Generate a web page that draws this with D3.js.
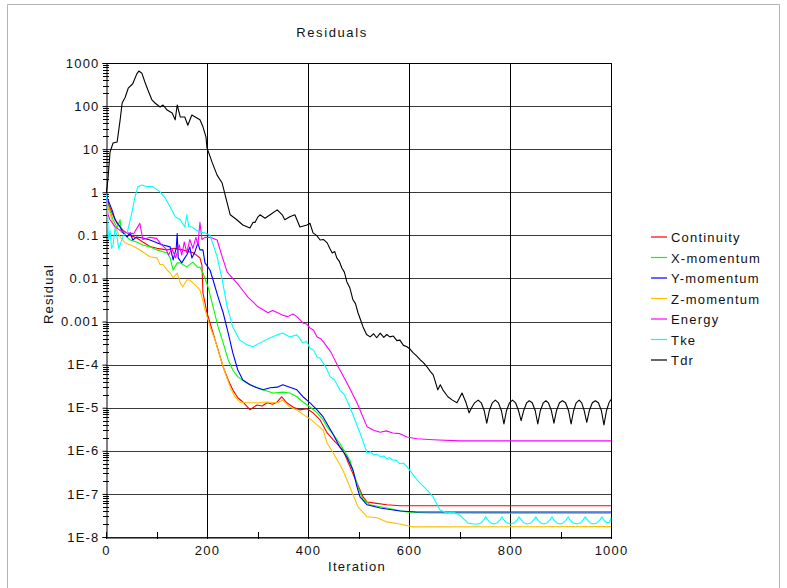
<!DOCTYPE html>
<html>
<head>
<meta charset="utf-8">
<script src="https://cdn.jsdelivr.net/npm/d3@7"></script>
<style>
  body { margin: 0; background: #fff; }
  text { font-family: "Liberation Sans", Arial, sans-serif; fill: #111; }
</style>
</head>
<body>
<div id="chart"></div>
<script>
var svgWidth = 787;
var svgHeight = 588;

var margin = { top: 63, bottom: 51, left: 106, right: 176 };
var width = svgWidth - margin.left - margin.right;
var height = svgHeight - margin.top - margin.bottom;

// series: [iteration, residual]
var continuity = [[0,0.8],[4,0.565],[12,0.33],[22,0.19],[34,0.13],[48,0.1],[61,0.087],[73,0.07],[87,0.055],[101,0.05],[121,0.046],[135,0.05],[152,0.046],[162,0.042],[172,0.04],[186,0.03],[190,0.02],[192,0.0046],[200,0.0016],[212,5.4e-4],[222,2.2e-4],[232,8.8e-5],[242,4.4e-5],[251,2.6e-5],[261,1.7e-5],[271,1.36e-5],[285,9.0e-6],[299,1.16e-5],[309,1.1e-5],[319,1.3e-5],[330,1.2e-5],[339,1.36e-5],[348,1.8e-5],[358,1.3e-5],[370,1.04e-5],[384,8.9e-6],[398,9.5e-6],[410,7.6e-6],[424,5.2e-6],[438,2.6e-6],[450,1.8e-6],[469,1.05e-6],[483,4.3e-7],[497,1.8e-7],[509,8.5e-8],[517,6.5e-8],[529,6.2e-8],[556,5.6e-8],[582,5.3e-8],[700,5.3e-8],[1000,5.3e-8]];

var xMomentum = [[0,0.7],[4,0.51],[14,0.23],[22,0.15],[28,0.23],[30,0.12],[34,0.114],[42,0.09],[48,0.078],[61,0.07],[73,0.06],[87,0.054],[101,0.046],[121,0.039],[127,0.03],[133,0.0157],[141,0.023],[147,0.023],[160,0.0185],[172,0.024],[182,0.018],[186,0.0185],[192,0.0134],[202,0.0064],[212,0.0022],[222,7.5e-4],[232,3.2e-4],[242,1.3e-4],[251,7.5e-5],[261,5.2e-5],[275,4.0e-5],[291,3.2e-5],[311,2.6e-5],[331,2.2e-5],[350,2.3e-5],[364,2.2e-5],[378,1.8e-5],[390,1.36e-5],[404,1.04e-5],[418,7.6e-6],[430,5.2e-6],[438,3.6e-6],[463,1.5e-6],[483,6.0e-7],[499,1.45e-7],[509,7.3e-8],[523,5.6e-8],[556,4.7e-8],[596,3.8e-8],[636,3.6e-8],[1000,3.55e-8]];

var yMomentum = [[0,0.9],[4,0.66],[12,0.39],[18,0.23],[28,0.157],[34,0.114],[42,0.092],[48,0.114],[53,0.078],[61,0.092],[73,0.087],[87,0.078],[101,0.067],[113,0.06],[127,0.054],[133,0.027],[139,0.05],[141,0.11],[143,0.03],[150,0.023],[156,0.03],[160,0.035],[166,0.054],[170,0.03],[176,0.041],[182,0.067],[186,0.046],[192,0.046],[196,0.023],[206,0.0157],[212,0.0092],[222,0.0037],[232,0.0016],[242,5.4e-4],[251,1.9e-4],[261,7.5e-5],[271,4.4e-5],[285,3.4e-5],[299,2.9e-5],[311,2.6e-5],[325,2.9e-5],[339,3.0e-5],[350,3.4e-5],[364,3.0e-5],[378,2.6e-5],[390,1.8e-5],[404,1.3e-5],[418,8.9e-6],[430,6.1e-6],[440,3.8e-6],[450,2.4e-6],[463,1.23e-6],[477,7.2e-7],[489,3.6e-7],[497,1.45e-7],[503,8.5e-8],[517,5.6e-8],[543,4.7e-8],[582,4.0e-8],[616,3.8e-8],[1000,3.8e-8]];

var zMomentum = [[0,0.6],[4,0.46],[14,0.19],[28,0.092],[38,0.067],[48,0.06],[61,0.051],[73,0.041],[87,0.032],[101,0.03],[107,0.021],[113,0.021],[121,0.0157],[127,0.0134],[133,0.0103],[141,0.0134],[147,0.0079],[152,0.0064],[160,0.0092],[166,0.0092],[172,0.0079],[180,0.0064],[186,0.0054],[190,0.0037],[196,0.0019],[206,7.5e-4],[216,3.7e-4],[226,1.5e-4],[236,6.4e-5],[246,3.0e-5],[255,1.8e-5],[265,1.36e-5],[279,1.3e-5],[299,1.3e-5],[319,1.36e-5],[339,1.3e-5],[350,1.5e-5],[364,1.04e-5],[378,8.9e-6],[390,7.0e-6],[404,5.5e-6],[418,4.0e-6],[430,3.0e-6],[438,1.5e-6],[450,8.9e-7],[469,3.6e-7],[483,1.45e-7],[499,5.0e-8],[517,2.95e-8],[537,2.8e-8],[556,2.24e-8],[582,2.0e-8],[608,1.72e-8],[1000,1.74e-8]];

var energy = [[0,0.9],[4,0.3],[8,0.23],[18,0.157],[28,0.13],[42,0.114],[55,0.11],[67,0.19],[73,0.08],[87,0.09],[100,0.085],[110,0.06],[118,0.05],[124,0.035],[130,0.05],[138,0.03],[145,0.06],[150,0.035],[155,0.07],[160,0.04],[166,0.08],[172,0.05],[178,0.09],[182,0.06],[186,0.2],[190,0.08],[196,0.09],[204,0.09],[210,0.087],[220,0.078],[230,0.032],[240,0.014],[259,0.0079],[275,0.0046],[281,0.0037],[301,0.0022],[321,0.0016],[330,0.0018],[340,0.0016],[350,0.0014],[360,0.0013],[370,0.0015],[378,0.0013],[390,9.3e-4],[397,8.8e-4],[404,7.1e-4],[411,6.3e-4],[418,4.4e-4],[425,4.0e-4],[432,3.2e-4],[446,1.9e-4],[460,8.8e-5],[477,3.8e-5],[497,1.3e-5],[517,3.6e-6],[530,3.0e-6],[543,2.7e-6],[555,2.9e-6],[568,2.6e-6],[582,2.5e-6],[596,2.1e-6],[616,1.9e-6],[648,1.8e-6],[700,1.7e-6],[1000,1.7e-6]];

var tke = [[0,0.9],[2,0.7],[5,0.08],[8,0.13],[11,0.05],[14,0.06],[18,0.15],[22,0.09],[25,0.05],[28,0.06],[34,0.1],[42,0.114],[51,0.33],[57,0.74],[63,1.35],[71,1.48],[81,1.35],[93,1.35],[107,1.02],[117,0.74],[127,0.46],[137,0.27],[147,0.23],[156,0.157],[160,0.3],[164,0.16],[170,0.157],[180,0.13],[186,0.12],[196,0.114],[206,0.1],[220,0.032],[230,0.0094],[240,0.0022],[251,7.5e-4],[265,3.7e-4],[279,2.9e-4],[291,2.6e-4],[305,3.2e-4],[325,4.2e-4],[339,4.9e-4],[350,5.4e-4],[364,4.4e-4],[378,4.9e-4],[390,3.2e-4],[397,3.5e-4],[404,2.4e-4],[411,2.2e-4],[418,1.5e-4],[424,1.4e-4],[430,1.1e-4],[437,8.0e-5],[444,5.2e-5],[452,4.5e-5],[463,2.6e-5],[472,2.0e-5],[483,1.04e-5],[503,2.6e-6],[517,8.9e-7],[524,9.5e-7],[530,8.0e-7],[537,8.4e-7],[543,7.2e-7],[550,7.6e-7],[556,6.6e-7],[562,6.9e-7],[568,6.1e-7],[575,6.0e-7],[582,5.0e-7],[589,5.2e-7],[596,4.3e-7],[616,2.1e-7],[636,1.23e-7],[648,8.5e-8],[661,4.3e-8],[675,3.6e-8],[687,3.8e-8],[701,3.2e-8],[717,2.1e-8],[728,2.0e-8],[738,2.0e-8],[743,2.15e-8],[748,2.5e-8],[752,2.95e-8],[756,2.5e-8],[761,2.15e-8],[768,2.0e-8],[775,2.15e-8],[780,2.5e-8],[784,2.95e-8],[788,2.5e-8],[793,2.15e-8],[801,2.0e-8],[809,2.15e-8],[814,2.5e-8],[818,2.95e-8],[822,2.5e-8],[827,2.15e-8],[834,2.0e-8],[842,2.15e-8],[847,2.5e-8],[851,2.95e-8],[855,2.5e-8],[860,2.15e-8],[867,2.0e-8],[874,2.15e-8],[879,2.5e-8],[883,2.95e-8],[887,2.5e-8],[892,2.15e-8],[899,2.0e-8],[906,2.15e-8],[911,2.5e-8],[915,2.95e-8],[919,2.5e-8],[924,2.15e-8],[932,2.0e-8],[940,2.15e-8],[945,2.5e-8],[949,2.95e-8],[953,2.5e-8],[958,2.15e-8],[965,2.0e-8],[973,2.15e-8],[978,2.5e-8],[982,2.95e-8],[986,2.5e-8],[991,2.15e-8],[997,2.2e-8],[1000,2.8e-8]];

var tdr = [[0,1.0],[2,1.26],[4,2.1],[8,8.6],[14,13.9],[22,14.7],[28,48],[32,118],[38,160],[44,260],[53,330],[61,560],[65,650],[71,580],[77,362],[83,236],[91,139],[97,118],[107,95],[113,106],[121,81],[131,69],[137,48],[141,106],[147,56],[156,56],[162,36],[170,62],[180,53],[186,48],[192,33],[198,19],[200,10.7],[210,5.0],[220,2.5],[230,1.64],[236,0.86],[246,0.3],[259,0.23],[271,0.174],[285,0.149],[291,0.2],[295,0.2],[301,0.27],[305,0.3],[315,0.25],[325,0.3],[339,0.39],[349,0.3],[354,0.23],[364,0.27],[374,0.3],[384,0.157],[398,0.174],[404,0.19],[410,0.114],[417,0.1],[424,0.078],[431,0.08],[438,0.067],[443,0.05],[448,0.039],[453,0.042],[457,0.03],[462,0.025],[467,0.0175],[472,0.014],[477,0.0083],[483,0.006],[489,0.0032],[494,0.0026],[499,0.0016],[504,0.0011],[509,7.5e-4],[516,5.0e-4],[523,4.4e-4],[530,5.2e-4],[536,4.2e-4],[543,5.4e-4],[550,4.3e-4],[556,5.0e-4],[562,4.4e-4],[569,4.6e-4],[576,3.6e-4],[582,3.7e-4],[589,2.8e-4],[596,2.6e-4],[602,2.3e-4],[608,1.9e-4],[615,1.6e-4],[622,1.3e-4],[629,1.1e-4],[636,8.8e-5],[642,7.0e-5],[648,5.8e-5],[657,2.6e-5],[662,3.4e-5],[667,2.6e-5],[677,1.8e-5],[686,1.5e-5],[695,1.3e-5],[705,2.2e-5],[713,1.3e-5],[719,7.6e-6],[724,1.0e-5],[730,1.3e-5],[737,1.5e-5],[743,1.3e-5],[749,8.5e-6],[754,4.4e-6],[759,8.5e-6],[765,1.3e-5],[771,1.5e-5],[777,1.3e-5],[783,8.5e-6],[788,4.2e-6],[793,8.5e-6],[799,1.3e-5],[805,1.5e-5],[811,1.3e-5],[817,8.5e-6],[822,5.0e-6],[827,8.5e-6],[833,1.3e-5],[838,1.45e-5],[844,1.3e-5],[850,8.5e-6],[855,4.2e-6],[860,8.5e-6],[866,1.3e-5],[871,1.45e-5],[876,1.3e-5],[882,8.5e-6],[887,4.4e-6],[892,8.5e-6],[898,1.3e-5],[904,1.45e-5],[910,1.3e-5],[916,8.5e-6],[921,4.2e-6],[926,8.5e-6],[931,1.3e-5],[937,1.5e-5],[942,1.3e-5],[947,8.5e-6],[952,4.6e-6],[957,8.5e-6],[963,1.3e-5],[969,1.45e-5],[975,1.3e-5],[981,8.5e-6],[986,4.0e-6],[991,8.5e-6],[996,1.3e-5],[1000,1.55e-5]];

var seriesNames = ["Continuity", "X-momentum", "Y-momentum", "Z-momentum", "Energy", "Tke", "Tdr"];
var seriesColors = ["#ff0000", "#00ff00", "#0000ff", "#ffbf00", "#ff00ff", "#00ffff", "#000000"];
var seriesData = [continuity, xMomentum, yMomentum, zMomentum, energy, tke, tdr];

var yTickValues = [1000, 100, 10, 1, 0.1, 0.01, 0.001, 1e-4, 1e-5, 1e-6, 1e-7, 1e-8];
var yTickLabels = ["1000", "100", "10", "1", "0.1", "0.01", "0.001", "1E-4", "1E-5", "1E-6", "1E-7", "1E-8"];
var xTickValues = [0, 200, 400, 600, 800, 1000];
var xTickLabels = ["0", "200", "400", "600", "800", "1000"];

var svg = d3.select("#chart")
  .append("svg")
  .attr("width", svgWidth)
  .attr("height", svgHeight);

svg.append("rect").attr("width", svgWidth).attr("height", svgHeight).attr("fill", "#fff");

// outer frame (open at the bottom)
svg.append("path")
  .attr("d", "M7.5,588 V4.5 H779.5 V588")
  .attr("fill", "none")
  .attr("stroke", "#b4b4b4");

var chartGroup = svg.append("g")
  .attr("transform", `translate(${margin.left}, ${margin.top})`);

var xScale = d3.scaleLinear().domain([0, 1000]).range([0, width]);
var yScale = d3.scaleLog().domain([1e-8, 1000]).range([height, 0]);

// grid
chartGroup.selectAll(".hgrid")
  .data(yTickValues)
  .enter()
  .append("line")
  .attr("x1", 0)
  .attr("x2", width)
  .attr("y1", d => Math.round(yScale(d)) + 0.5)
  .attr("y2", d => Math.round(yScale(d)) + 0.5)
  .attr("stroke", "#3a3a3a");

chartGroup.selectAll(".vgrid")
  .data(xTickValues.slice(1))
  .enter()
  .append("line")
  .attr("x1", d => Math.round(xScale(d)) + 0.5)
  .attr("x2", d => Math.round(xScale(d)) + 0.5)
  .attr("y1", 0)
  .attr("y2", height)
  .attr("stroke", "#000");

// minor log ticks crossing the y axis
var minorTicks = [];
yTickValues.slice(1).forEach(function(d) {
  for (var m = 2; m < 10; m++) minorTicks.push(d * m);
});
chartGroup.selectAll(".minor")
  .data(minorTicks)
  .enter()
  .append("line")
  .attr("x1", -3)
  .attr("x2", 3)
  .attr("y1", d => Math.round(yScale(d)) + 0.5)
  .attr("y2", d => Math.round(yScale(d)) + 0.5)
  .attr("stroke", "#000");

// x ticks every 100
chartGroup.selectAll(".xminor")
  .data(d3.range(0, 1001, 100))
  .enter()
  .append("line")
  .attr("x1", d => Math.round(xScale(d)) + 0.5)
  .attr("x2", d => Math.round(xScale(d)) + 0.5)
  .attr("y1", height - 5)
  .attr("y2", height + 2)
  .attr("stroke", "#000");

var yAxis = d3.axisLeft(yScale)
  .tickValues(yTickValues)
  .tickFormat((d, i) => yTickLabels[i])
  .tickSize(4)
  .tickPadding(3);

var yAxisG = chartGroup.append("g").attr("transform", "translate(0.5,0)").call(yAxis);
yAxisG.selectAll("text").style("font-size", "13px").style("letter-spacing", "1.2px").attr("fill", "#111");

var xAxis = d3.axisBottom(xScale)
  .tickValues(xTickValues)
  .tickFormat((d, i) => xTickLabels[i])
  .tickSize(0)
  .tickPadding(8);

var xAxisG = chartGroup.append("g").attr("transform", `translate(0,${height + 0.5})`).call(xAxis);
xAxisG.selectAll("text").style("font-size", "13px").style("letter-spacing", "1.2px").attr("fill", "#111");

chartGroup.selectAll(".domain").attr("stroke", "#000");

// top and right frame of the plot
chartGroup.append("path")
  .attr("d", `M0.5,0.5 H${width + 0.5} V${height}`)
  .attr("fill", "none")
  .attr("stroke", "#000");

chartGroup.append("clipPath").attr("id", "plotclip")
  .append("rect").attr("x", 0).attr("y", 0).attr("width", width + 1).attr("height", height);

var line = d3.line()
  .x(d => xScale(d[0]))
  .y(d => yScale(d[1]));

var linesGroup = chartGroup.append("g").attr("clip-path", "url(#plotclip)");
seriesData.forEach(function(data, i) {
  linesGroup.append("path")
    .datum(data)
    .attr("d", line)
    .attr("fill", "none")
    .attr("stroke", seriesColors[i])
    .attr("stroke-width", 1.1)
    .attr("stroke-linejoin", "round");
});

// titles
svg.append("text")
  .attr("x", 332)
  .attr("y", 37)
  .attr("text-anchor", "middle")
  .style("font-size", "13px")
  .style("letter-spacing", "1.6px")
  .text("Residuals");

svg.append("text")
  .attr("x", 357)
  .attr("y", 571)
  .attr("text-anchor", "middle")
  .style("font-size", "13px")
  .style("letter-spacing", "1.2px")
  .text("Iteration");

svg.append("text")
  .attr("transform", "translate(53,294) rotate(-90)")
  .attr("text-anchor", "middle")
  .style("font-size", "13px")
  .style("letter-spacing", "1.2px")
  .text("Residual");

// legend
var legend = svg.append("g").attr("transform", "translate(651,237)");
seriesNames.forEach(function(name, i) {
  var row = legend.append("g").attr("transform", `translate(0, ${i * 20.5})`);
  row.append("line")
    .attr("x1", 0).attr("x2", 16)
    .attr("y1", 0).attr("y2", 0)
    .attr("stroke", seriesColors[i])
    .attr("stroke-width", 1.2);
  row.append("text")
    .attr("x", 20)
    .attr("y", 5)
    .style("font-size", "13px")
    .style("letter-spacing", "1.2px")
    .text(name);
});
</script>
</body>
</html>
